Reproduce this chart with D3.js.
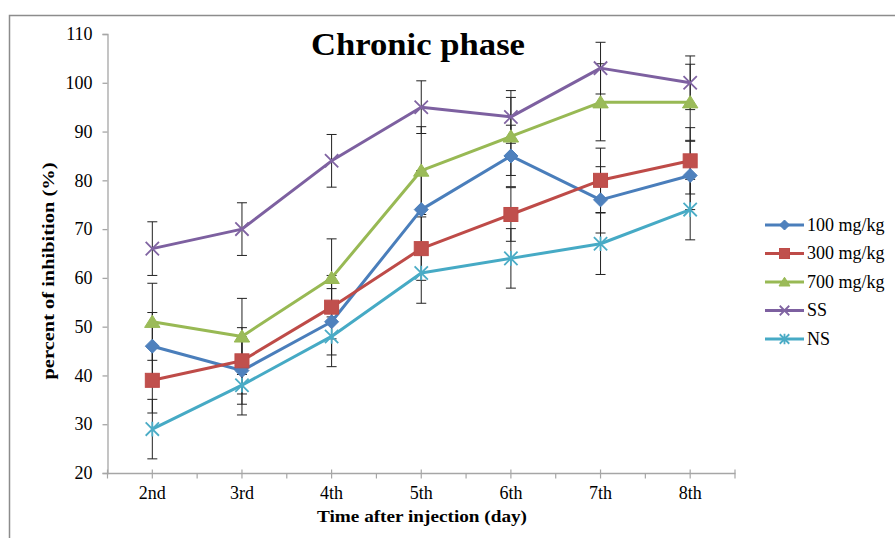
<!DOCTYPE html>
<html lang="en">
<head>
    <meta charset="UTF-8">
    <title>Chronic phase</title>
    <script src="https://d3js.org/d3.v7.min.js"></script>
    <style>
        body { margin: 0; background: #fff; }
        svg text { font-family: "Liberation Serif", "Times New Roman", serif; fill: #000; }
    </style>
</head>
<body>
    <div id="chart"></div>
    <script>
        // Data
        const days = ["2nd", "3rd", "4th", "5th", "6th", "7th", "8th"];
        const yTicks = [20, 30, 40, 50, 60, 70, 80, 90, 100, 110];

        const mg100 = [46, 41, 51, 74, 85, 76, 81];
        const mg100Err = [6.9, 6.9, 6.8, 8, 6.3, 6.8, 7];
        const mg300 = [39, 43, 54, 66, 73, 80, 84];
        const mg300Err = [6.7, 6.8, 6.5, 6.5, 5.5, 6.6, 6.8];
        const mg700 = [51, 48, 60, 82, 89, 96, 96];
        const mg700Err = [7.9, 7.8, 8, 9, 8, 7.9, 7.8];
        const ss = [66, 70, 84, 95, 93, 103, 100];
        const ssErr = [5.5, 5.4, 5.4, 5.4, 5.4, 5.3, 5.5];
        const ns = [29, 38, 48, 61, 64, 67, 74];
        const nsErr = [6.1, 6.1, 6.2, 6.2, 6.1, 6.3, 6.2];

        const series = [
            { name: "100 mg/kg", values: mg100, err: mg100Err, color: "#4a7ebb", fill: "#4f81bd", marker: "diamond" },
            { name: "300 mg/kg", values: mg300, err: mg300Err, color: "#be4b48", fill: "#c0504d", marker: "square" },
            { name: "700 mg/kg", values: mg700, err: mg700Err, color: "#98b954", fill: "#9bbb59", marker: "triangle" },
            { name: "SS", values: ss, err: ssErr, color: "#7d60a0", fill: "#8064a2", marker: "x" },
            { name: "NS", values: ns, err: nsErr, color: "#46aac5", fill: "#4bacc6", marker: "star" }
        ];

        const serif = "'Liberation Serif', 'Times New Roman', serif";
        const width = 895, height = 538;
        const svg = d3.select("#chart").append("svg")
            .attr("width", width)
            .attr("height", height)
            .attr("font-family", serif);

        // outer chart frame (runs off the right and bottom edges)
        svg.append("rect")
            .attr("x", 9.5).attr("y", 15.5)
            .attr("width", 1000).attr("height", 1000)
            .attr("fill", "none")
            .attr("stroke", "#8c8c8c")
            .attr("stroke-width", 1.5);

        const x = d3.scalePoint().domain(days).range([107.5, 735]).padding(0.5);
        const y = d3.scaleLinear().domain([20, 110]).range([473, 34]);

        const axisColor = "#a6a6a6";

        // y axis
        const yAxis = svg.append("g").attr("transform", "translate(107.5,0)")
            .call(d3.axisLeft(y).tickValues(yTicks).tickSize(5).tickPadding(10))
            .attr("font-family", serif);
        yAxis.select(".domain").attr("stroke", axisColor).attr("stroke-width", 1.3);
        yAxis.selectAll(".tick line").attr("stroke", axisColor).attr("stroke-width", 1.3);
        yAxis.selectAll(".tick text")
            .attr("font-size", 18)
            .attr("fill", "#000");

        // x axis: long ticks on categories, short ones in between
        const xg = svg.append("g").attr("transform", "translate(0,473.5)");
        xg.append("line")
            .attr("x1", 107.5).attr("x2", 735.5)
            .attr("stroke", axisColor).attr("stroke-width", 1.5);
        const step = x.step();
        const edges = d3.range(days.length + 1).map(i => x(days[0]) - step / 2 + i * step);
        xg.selectAll(".minor").data(edges).enter().append("line")
            .attr("x1", d => d).attr("x2", d => d)
            .attr("y1", (d, i) => (i === 0 || i === days.length) ? -4 : 0)
            .attr("y2", 5)
            .attr("stroke", axisColor).attr("stroke-width", 1.2);
        xg.selectAll(".major").data(days).enter().append("line")
            .attr("x1", d => x(d)).attr("x2", d => x(d))
            .attr("y1", -4).attr("y2", 5)
            .attr("stroke", axisColor).attr("stroke-width", 1.2);
        xg.selectAll(".lab").data(days).enter().append("text")
            .attr("x", d => x(d)).attr("y", 25.5)
            .attr("text-anchor", "middle")
            .attr("font-size", 18)
            .text(d => d);

        // error bars
        const errG = svg.append("g");
        series.forEach(s => {
            s.values.forEach((v, i) => {
                const cx = x(days[i]);
                const y1 = y(v + s.err[i]), y2 = y(v - s.err[i]);
                errG.append("line").attr("x1", cx).attr("x2", cx).attr("y1", y1).attr("y2", y2)
                    .attr("stroke", "#222").attr("stroke-width", 1);
                [y1, y2].forEach(yy => errG.append("line")
                    .attr("x1", cx - 5).attr("x2", cx + 5).attr("y1", yy).attr("y2", yy)
                    .attr("stroke", "#222").attr("stroke-width", 1));
            });
        });

        // lines
        const line = d3.line().x((d, i) => x(days[i])).y(d => y(d));
        svg.append("g").selectAll("path").data(series).enter().append("path")
            .attr("d", d => line(d.values))
            .attr("fill", "none")
            .attr("stroke", d => d.color)
            .attr("stroke-width", 3)
            .attr("stroke-linejoin", "round");

        // markers
        function drawMarker(g, type, cx, cy, s, r) {
            if (type === "diamond") {
                g.append("path")
                    .attr("d", `M${cx},${cy - r}L${cx + r},${cy}L${cx},${cy + r}L${cx - r},${cy}Z`)
                    .attr("fill", s.fill).attr("stroke", s.color).attr("stroke-width", 1);
            } else if (type === "square") {
                g.append("rect")
                    .attr("x", cx - r).attr("y", cy - r).attr("width", 2 * r).attr("height", 2 * r)
                    .attr("fill", s.fill).attr("stroke", s.color).attr("stroke-width", 1);
            } else if (type === "triangle") {
                g.append("path")
                    .attr("d", `M${cx},${cy - r * 0.95}L${cx + r * 1.1},${cy + r * 0.8}L${cx - r * 1.1},${cy + r * 0.8}Z`)
                    .attr("fill", s.fill).attr("stroke", s.color).attr("stroke-width", 1);
            } else {
                const a = r * 0.95;
                let d = `M${cx - a},${cy - a}L${cx + a},${cy + a}M${cx - a},${cy + a}L${cx + a},${cy - a}`;
                if (type === "star") d += `M${cx},${cy - a * 1.1}L${cx},${cy + a * 1.1}`;
                g.append("path").attr("d", d)
                    .attr("fill", "none").attr("stroke", s.fill).attr("stroke-width", 1.8);
            }
        }

        const markG = svg.append("g");
        series.forEach(s => {
            s.values.forEach((v, i) => drawMarker(markG, s.marker, x(days[i]), y(v), s, 7));
        });

        // title
        svg.append("text")
            .attr("x", 418).attr("y", 55)
            .attr("text-anchor", "middle")
            .attr("font-size", 32)
            .attr("font-weight", "bold")
            .attr("textLength", 214).attr("lengthAdjust", "spacingAndGlyphs")
            .text("Chronic phase");

        // axis titles
        svg.append("text")
            .attr("x", 422).attr("y", 522)
            .attr("text-anchor", "middle")
            .attr("font-size", 16.5)
            .attr("font-weight", "bold")
            .attr("textLength", 210).attr("lengthAdjust", "spacingAndGlyphs")
            .text("Time after injection (day)");

        svg.append("text")
            .attr("transform", "translate(54,271) rotate(-90)")
            .attr("text-anchor", "middle")
            .attr("font-size", 16.5)
            .attr("font-weight", "bold")
            .attr("textLength", 217).attr("lengthAdjust", "spacingAndGlyphs")
            .text("percent of inhibition (%)");

        // legend
        const legend = svg.append("g").selectAll("g").data(series).enter().append("g")
            .attr("transform", (d, i) => `translate(765,${225 + i * 28.5})`);
        legend.append("line")
            .attr("x1", 0).attr("x2", 39)
            .attr("stroke", d => d.color).attr("stroke-width", 3);
        legend.each(function (d) { drawMarker(d3.select(this), d.marker, 19.5, 0, d, 5); });
        legend.append("text")
            .attr("x", 42).attr("y", 5.5)
            .attr("font-size", 18)
            .text(d => d.name);
    </script>
</body>
</html>
